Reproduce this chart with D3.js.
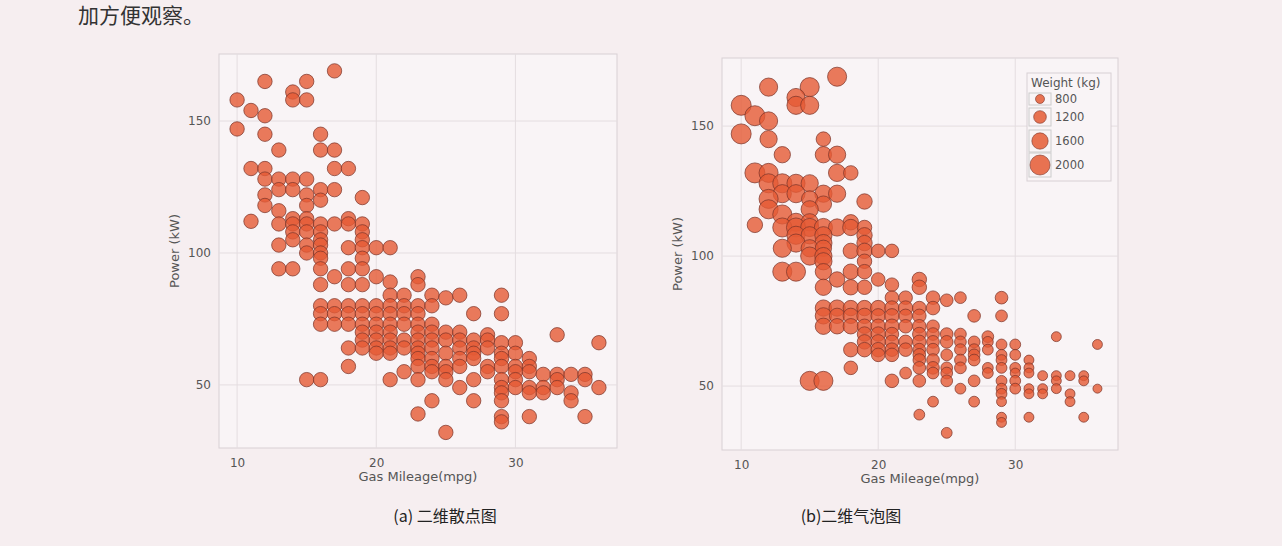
<!DOCTYPE html>
<html><head><meta charset="utf-8">
<script src="https://cdn.jsdelivr.net/npm/d3@7"></script>
<style>body{margin:0;background:#f6eef0;}svg{display:block}</style>
</head><body><svg id="c" width="1282" height="546"></svg>
<script>
const mpg = [17,12,15,14,14,15,10,11,12,10,12,16,13,16,17,11,12,17,18,12,13,14,15,13,14,16,17,12,15,16,19,12,15,13,14,15,18,11,13,14,15,16,17,18,19,14,15,16,19,14,16,19,13,15,16,18,19,20,21,15,16,16,19,13,14,16,18,19,17,20,21,23,16,18,19,23,21,22,24,25,26,29,
16,17,18,19,20,21,22,23,24,
16,17,18,19,20,21,22,23,27,29,
16,17,18,19,20,21,22,23,24,
19,20,21,23,24,25,26,28,33,
19,20,21,22,23,24,25,26,27,28,29,30,36,
18,19,20,21,22,23,24,26,27,28,
20,21,23,25,27,29,30,
23,24,26,27,29,31,
18,23,24,25,26,28,29,30,31,
22,24,25,28,30,31,32,33,34,35,
15,16,21,23,25,27,29,30,33,35,
26,29,30,31,32,33,36,
29,31,32,34,
24,27,29,34,
23,31,29,35,29,25];
const power = [169,165,165,161,158,158,158,154,152,147,145,145,139,139,139,132,132,132,132,128,128,128,128,124,124,124,124,122,122,120,121,118,118,116,113,113,113,112,111,111,111,111,111,111,111,108,108,108,108,105,105,105,103,103,103,102,102,102,102,100,100,98,98,94,94,94,94,94,91,91,89,91,88,88,88,88,84,84,84,83,84,84,
80,80,80,80,80,80,80,80,80,
77,77,77,77,77,77,77,77,77,77,
73,73,73,73,73,73,73,73,73,
70,70,70,70,70,70,70,69,69,
67,67,67,67,67,67,67,67,67,67,66,66,66,
64,64,64,64,64,64,64,64,64,64,
62,62,62,62,62,62,62,
60,60,60,60,60,60,
57,57,57,57,57,57,57,57,57,
55,55,55,55,55,55,54,54,54,54,
52,52,52,52,52,52,52,52,52,52,
49,49,49,49,49,49,49,
47,47,47,47,
44,44,44,44,
39,38,38,38,36,32];
const weight = [1900,1800,1900,1800,1800,1800,2000,2000,1800,2000,1700,1400,1600,1600,1700,2000,1900,1700,1400,1900,1900,1800,1700,1800,1800,1700,1700,1900,1600,1600,1500,1900,1700,1900,1800,1700,1500,1500,1900,1900,1800,1800,1700,1600,1400,1800,1700,1700,1500,1800,1700,1500,1800,1700,1600,1500,1500,1300,1300,1800,1700,1700,1400,1900,1900,1600,1500,1400,1500,1300,1300,1400,1600,1500,1400,1400,1300,1300,1300,1200,1100,1200,
1600,1600,1500,1500,1500,1400,1400,1300,1300,
1600,1500,1500,1500,1400,1400,1300,1300,1200,1100,
1600,1500,1500,1400,1400,1400,1300,1300,1200,
1400,1400,1300,1300,1200,1200,1100,1100,900,
1400,1400,1300,1300,1300,1200,1200,1100,1100,1000,1000,1000,900,
1400,1400,1400,1300,1300,1200,1200,1100,1100,1000,
1300,1300,1200,1100,1100,1000,1000,
1200,1200,1100,1100,1000,900,
1300,1200,1200,1100,1100,1000,1000,1000,900,
1100,1100,1100,1000,900,900,900,900,900,900,
1900,1900,1300,1200,1100,1100,1000,1000,900,900,
1000,1000,1000,900,900,900,800,
1000,900,900,900,
1000,1000,900,900,
1000,900,900,900,900,1000];
const xTicks = [10,20,30], yTicks = [50,100,150];
const legendWeights = [800,1200,1600,2000];

const svg = d3.select("#c");
const data = mpg.map((m,i)=>({m, p:power[i], w:weight[i]}));
const rScale = d3.scaleLinear().domain([800,2000]).range([4.5,10]);
const fill = "#e55a34", stroke = "#7a3428";

svg.append("text").attr("x",78).attr("y",23).attr("font-family","Noto Sans CJK SC").attr("font-size",21).attr("fill","#333").text("加方便观察。");

function panel(x0,x1,y0,y1,xd,yd,bubble,caption,cx){
  const x = d3.scaleLinear().domain(xd).range([x0,x1]);
  const y = d3.scaleLinear().domain(yd).range([y1,y0]);
  const g = svg.append("g");
  g.append("rect").attr("x",x0).attr("y",y0).attr("width",x1-x0).attr("height",y1-y0).attr("fill","#f9f4f6").attr("stroke","#d8d0d4");
  xTicks.forEach(t=>g.append("line").attr("x1",x(t)).attr("x2",x(t)).attr("y1",y0).attr("y2",y1).attr("stroke","#e4dde0"));
  yTicks.forEach(t=>g.append("line").attr("y1",y(t)).attr("y2",y(t)).attr("x1",x0).attr("x2",x1).attr("stroke","#e4dde0"));
  const xa = g.append("g").attr("transform",`translate(0,${y1})`).call(d3.axisBottom(x).tickValues(xTicks).tickSize(0).tickPadding(10));
  const ya = g.append("g").attr("transform",`translate(${x0},0)`).call(d3.axisLeft(y).tickValues(yTicks).tickSize(0).tickPadding(8));
  [xa,ya].forEach(a=>{a.select(".domain").remove();a.selectAll("text").attr("font-family","DejaVu Sans").attr("font-size",12).attr("fill","#555");});
  g.append("text").attr("x",(x0+x1)/2).attr("y",y1+33).attr("text-anchor","middle").attr("font-family","DejaVu Sans").attr("font-size",13).attr("fill","#555").text("Gas Mileage(mpg)");
  g.append("text").attr("transform",`translate(${x0-40},${(y0+y1)/2}) rotate(-90)`).attr("text-anchor","middle").attr("font-family","DejaVu Sans").attr("font-size",13).attr("fill","#555").text("Power (kW)");
  g.selectAll("circle.d").data(data).join("circle").attr("cx",d=>x(d.m)).attr("cy",d=>y(d.p))
    .attr("r",d=>bubble?rScale(d.w):7.2).attr("fill",fill).attr("fill-opacity",0.8).attr("stroke",stroke).attr("stroke-width",0.9).attr("stroke-opacity",0.8);
  svg.append("text").attr("x",cx).attr("y",522).attr("text-anchor","middle").attr("font-family","Noto Sans CJK SC").attr("font-size",16).attr("fill","#222").text(caption);
}
panel(219,617,54,448,[8.7,37.3],[26.1,175.4],false,"(a)  二维散点图",445);
panel(722,1118,58,450,[8.6,37.5],[25.4,176.2],true,"(b)二维气泡图",851);

const lg = svg.append("g");
lg.append("rect").attr("x",1027).attr("y",73).attr("width",84).attr("height",108).attr("fill","#f9f4f6").attr("stroke","#d8d0d4");
lg.append("text").attr("x",1031).attr("y",87).attr("font-family","DejaVu Sans").attr("font-size",12).attr("fill","#555").text("Weight (kg)");
const rowsY = [99,117,141,165], boxH=[12,18,22,24];
legendWeights.forEach((w,i)=>{
  lg.append("rect").attr("x",1029).attr("y",rowsY[i]-boxH[i]/2).attr("width",22).attr("height",boxH[i]).attr("fill","none").attr("stroke","#ccc");
  lg.append("circle").attr("cx",1040).attr("cy",rowsY[i]).attr("r",rScale(w)).attr("fill",fill).attr("fill-opacity",0.85).attr("stroke",stroke).attr("stroke-width",0.6);
  lg.append("text").attr("x",1055).attr("y",rowsY[i]+4).attr("font-family","DejaVu Sans").attr("font-size",11.5).attr("fill","#555").text(w);
});
</script></body></html>
